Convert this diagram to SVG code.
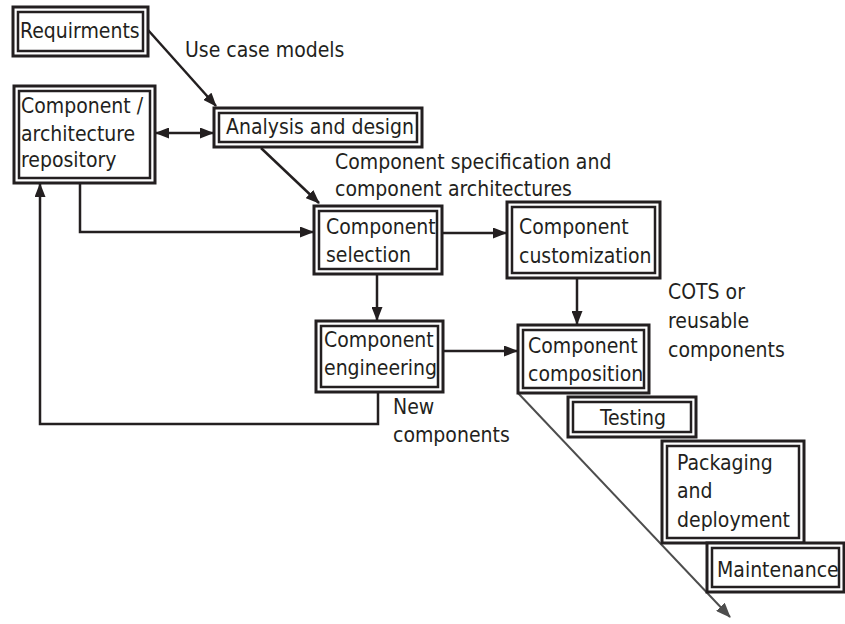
<svg xmlns="http://www.w3.org/2000/svg" width="845" height="624" viewBox="0 0 845 624">
  <defs>
    <marker id="arr" viewBox="0 0 14 11" refX="13" refY="5.5" markerWidth="14" markerHeight="11" markerUnits="userSpaceOnUse" orient="auto-start-reverse">
      <path d="M0,0 L14,5.5 L0,11 z" fill="#231f20"/>
    </marker>
    <marker id="arrg" viewBox="0 0 15 12" refX="14" refY="6" markerWidth="15" markerHeight="12" markerUnits="userSpaceOnUse" orient="auto">
      <path d="M0,0 L15,6 L0,12 z" fill="#4d4d4d"/>
    </marker>
  </defs>
  <style>
    .outer { fill: #fff; stroke: #231f20; stroke-width: 3; }
    .inner { fill: none; stroke: #231f20; stroke-width: 2.5; }
    text { font-family: "DejaVu Sans Condensed", "Liberation Sans", sans-serif; font-size: 21px; fill: #231f20; }
    .conn { fill: none; stroke: #231f20; stroke-width: 2.5; }
  </style>
  <rect width="845" height="624" fill="#fff"/>

  <g id="connectors">
    <line class="conn" x1="148" y1="30" x2="216" y2="106" marker-end="url(#arr)"/>
    <line class="conn" x1="156" y1="133" x2="213" y2="133" marker-start="url(#arr)" marker-end="url(#arr)"/>
    <line class="conn" x1="261" y1="148" x2="319" y2="203" marker-end="url(#arr)"/>
    <polyline class="conn" points="80,183 80,232 313,232" marker-end="url(#arr)"/>
    <line class="conn" x1="442" y1="233" x2="506" y2="233" marker-end="url(#arr)"/>
    <line class="conn" x1="377" y1="274" x2="377" y2="320" marker-end="url(#arr)"/>
    <line class="conn" x1="577" y1="278" x2="577" y2="324" marker-end="url(#arr)"/>
    <line class="conn" x1="443" y1="351" x2="517" y2="351" marker-end="url(#arr)"/>
    <polyline class="conn" points="378,392 378,424 40,424 40,184" marker-end="url(#arr)"/>
    <line x1="518" y1="393" x2="730" y2="617" stroke="#4d4d4d" stroke-width="2" marker-end="url(#arrg)"/>
  </g>

  <g id="requirements">
    <rect class="outer" x="13" y="7" width="135" height="49"/>
    <rect class="inner" x="18" y="12" width="125" height="39"/>
    <text x="20" y="38">Requirments</text>
  </g>
  <text x="185" y="57">Use case models</text>

  <g id="repository">
    <rect class="outer" x="14" y="86" width="141" height="97"/>
    <rect class="inner" x="19" y="91" width="131" height="87"/>
    <text x="21" y="113">Component /</text>
    <text x="21" y="141">architecture</text>
    <text x="21" y="167">repository</text>
  </g>

  <g id="analysis">
    <rect class="outer" x="214" y="108" width="208" height="39"/>
    <rect class="inner" x="219" y="113" width="198" height="29"/>
    <text x="226" y="134">Analysis and design</text>
  </g>
  <text x="335" y="169">Component specification and</text>
  <text x="335" y="196">component architectures</text>

  <g id="selection">
    <rect class="outer" x="314" y="206" width="128" height="68"/>
    <rect class="inner" x="319" y="211" width="118" height="58"/>
    <text x="326" y="234">Component</text>
    <text x="326" y="262">selection</text>
  </g>

  <g id="customization">
    <rect class="outer" x="507" y="202" width="153" height="76"/>
    <rect class="inner" x="512" y="207" width="143" height="66"/>
    <text x="519" y="234">Component</text>
    <text x="519" y="263">customization</text>
  </g>

  <g id="engineering">
    <rect class="outer" x="316" y="321" width="127" height="71"/>
    <rect class="inner" x="321" y="326" width="117" height="61"/>
    <text x="324" y="347">Component</text>
    <text x="324" y="375">engineering</text>
  </g>

  <g id="composition">
    <rect class="outer" x="518" y="325" width="131" height="68"/>
    <rect class="inner" x="523" y="330" width="121" height="58"/>
    <text x="528" y="353">Component</text>
    <text x="528" y="381">composition</text>
  </g>
  <text x="668" y="299">COTS or</text>
  <text x="668" y="328">reusable</text>
  <text x="668" y="357">components</text>
  <text x="393" y="414">New</text>
  <text x="393" y="442">components</text>

  <g id="testing">
    <rect class="outer" x="568" y="397" width="128" height="40"/>
    <rect class="inner" x="573" y="402" width="118" height="30"/>
    <text x="600" y="425">Testing</text>
  </g>

  <g id="packaging">
    <rect class="outer" x="662" y="441" width="142" height="102"/>
    <rect class="inner" x="667" y="446" width="132" height="92"/>
    <text x="677" y="470">Packaging</text>
    <text x="677" y="498">and</text>
    <text x="677" y="527">deployment</text>
  </g>

  <g id="maintenance">
    <rect class="outer" x="707" y="543" width="137" height="49"/>
    <rect class="inner" x="712" y="548" width="127" height="39"/>
    <text x="717" y="577">Maintenance</text>
  </g>
</svg>
